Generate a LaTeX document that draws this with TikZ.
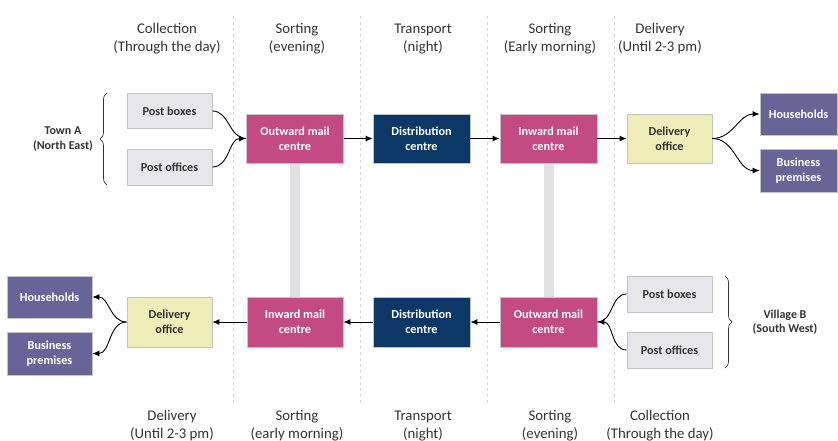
\documentclass[tikz,border=0pt]{standalone}
\usepackage{fontspec}
\setmainfont{Carlito}
\usetikzlibrary{arrows.meta,decorations.pathreplacing}
\definecolor{magentabox}{HTML}{C44A84}
\definecolor{navybox}{HTML}{0B3867}
\definecolor{yellowbox}{HTML}{EEEDB7}
\definecolor{purplebox}{HTML}{676598}
\definecolor{graybox}{HTML}{E7E6EB}
\definecolor{boxborder}{HTML}{C4C4C4}
\definecolor{darktext}{HTML}{333333}
\definecolor{barcol}{HTML}{E1E1E4}
\definecolor{dashcol}{HTML}{D4D4D4}
\tikzset{
  box/.style={draw=boxborder, line width=0.8pt, inner sep=0pt, align=center,
    font=\fontsize{12.2}{15}\selectfont\bfseries},
  graynode/.style={box, fill=graybox, text=darktext, minimum width=85pt},
  magnode/.style={box, fill=magentabox, text=white, minimum width=97pt, minimum height=49pt},
  navynode/.style={box, fill=navybox, text=white, minimum width=97pt, minimum height=49pt},
  yelnode/.style={box, fill=yellowbox, text=darktext, minimum width=85pt, minimum height=49pt},
  purnode/.style={box, fill=purplebox, text=white},
  header/.style={align=center, text=darktext, font=\fontsize{14.8}{18}\selectfont},
  placelbl/.style={align=center, text=darktext, font=\fontsize{12}{14.5}\selectfont\bfseries},
  conn/.style={black, line width=0.9pt, -{Latex[length=7pt,width=6pt]}},
  connplain/.style={black, line width=0.9pt},
  divider/.style={dashcol, dashed, line width=0.6pt},
  bar/.style={barcol, line width=10pt},
  bracestyle/.style={darktext, line width=0.7pt, decorate, decoration={brace, amplitude=7pt}}
}
\begin{document}
\begin{tikzpicture}[x=1pt,y=-1pt]
\useasboundingbox (0,0) rectangle (838,441);
% dividers
\foreach \xx in {233,360,487,614}{\draw[divider] (\xx,16) -- (\xx,405);}
% headers top
\node[header] (h1) at (167,39) {Collection\\(Through the day)};
\node[header] (h2) at (297,39) {Sorting\\(evening)};
\node[header] (h3) at (423,39) {Transport\\(night)};
\node[header] (h4) at (550,39) {Sorting\\(Early morning)};
\node[header] (h5) at (660,39) {Delivery\\(Until 2-3 pm)};
% headers bottom
\node[header] (b1) at (172,426) {Delivery\\(Until 2-3 pm)};
\node[header] (b2) at (297,426) {Sorting\\(early morning)};
\node[header] (b3) at (423,426) {Transport\\(night)};
\node[header] (b4) at (550,426) {Sorting\\(evening)};
\node[header] (b5) at (660,426) {Collection\\(Through the day)};
% bars (drawn first)
\coordinate (barA1) at (295,160);
\coordinate (barA2) at (295,300);
\coordinate (barB1) at (548.5,160);
\coordinate (barB2) at (548.5,300);
\draw[bar] (barA1) -- (barA2);
\draw[bar] (barB1) -- (barB2);
% top row
\node[graynode, minimum height=35pt] (pbA) at (169.5,111) {Post boxes};
\node[graynode, minimum height=36pt] (poA) at (169.5,167) {Post offices};
\node[magnode] (outA) at (295,138.5) {Outward mail\\centre};
\node[navynode] (distA) at (421.5,138.5) {Distribution\\centre};
\node[magnode] (inA) at (548.5,138.5) {Inward mail\\centre};
\node[yelnode] (delA) at (669.5,138.5) {Delivery\\office};
\node[purnode, minimum width=77pt, minimum height=42pt] (hhA) at (798.5,114) {Households};
\node[purnode, minimum width=77pt, minimum height=43pt] (bpA) at (798.5,170.5) {Business\\premises};
\node[placelbl] (townA) at (63,139) {Town A\\(North East)};
% bottom row
\node[purnode, minimum width=85pt, minimum height=42pt] (hhB) at (49.5,297) {Households};
\node[purnode, minimum width=85pt, minimum height=43pt] (bpB) at (49.5,353.5) {Business\\premises};
\node[yelnode, minimum height=50pt] (delB) at (169.5,322) {Delivery\\office};
\node[magnode, minimum width=96pt, minimum height=50pt] (inB) at (295,322) {Inward mail\\centre};
\node[navynode, minimum height=50pt] (distB) at (421.5,322) {Distribution\\centre};
\node[magnode, minimum height=50pt] (outB) at (548.5,322) {Outward mail\\centre};
\node[graynode, minimum height=36pt] (pbB) at (669.5,294) {Post boxes};
\node[graynode, minimum height=36pt] (poB) at (669.5,350) {Post offices};
\node[placelbl] (villB) at (785,322) {Village B\\(South West)};
% braces
\coordinate (brA1) at (107,185);
\coordinate (brA2) at (107,93);
\coordinate (brB1) at (725,276);
\coordinate (brB2) at (725,368);
\draw[bracestyle] (brA1) -- (brA2);
\draw[bracestyle] (brB1) -- (brB2);
% connectors top
\draw[connplain] (pbA.east) to[out=0,in=180] (outA.west);
\draw[conn] (poA.east) to[out=0,in=180] (outA.west);
\draw[conn] (outA) -- (distA);
\draw[conn] (distA) -- (inA);
\draw[conn] (inA) -- (delA);
\draw[conn] (delA.east) to[out=0,in=180] (hhA.west);
\draw[conn] (delA.east) to[out=0,in=180] (bpA.west);
% connectors bottom
\draw[connplain] (pbB.west) to[out=180,in=0] (outB.east);
\draw[conn] (poB.west) to[out=180,in=0] (outB.east);
\draw[conn] (outB) -- (distB);
\draw[conn] (distB) -- (inB);
\draw[conn] (inB) -- (delB);
\draw[conn] (delB.west) to[out=180,in=0] (hhB.east);
\draw[conn] (delB.west) to[out=180,in=0] (bpB.east);
\end{tikzpicture}
\end{document}
